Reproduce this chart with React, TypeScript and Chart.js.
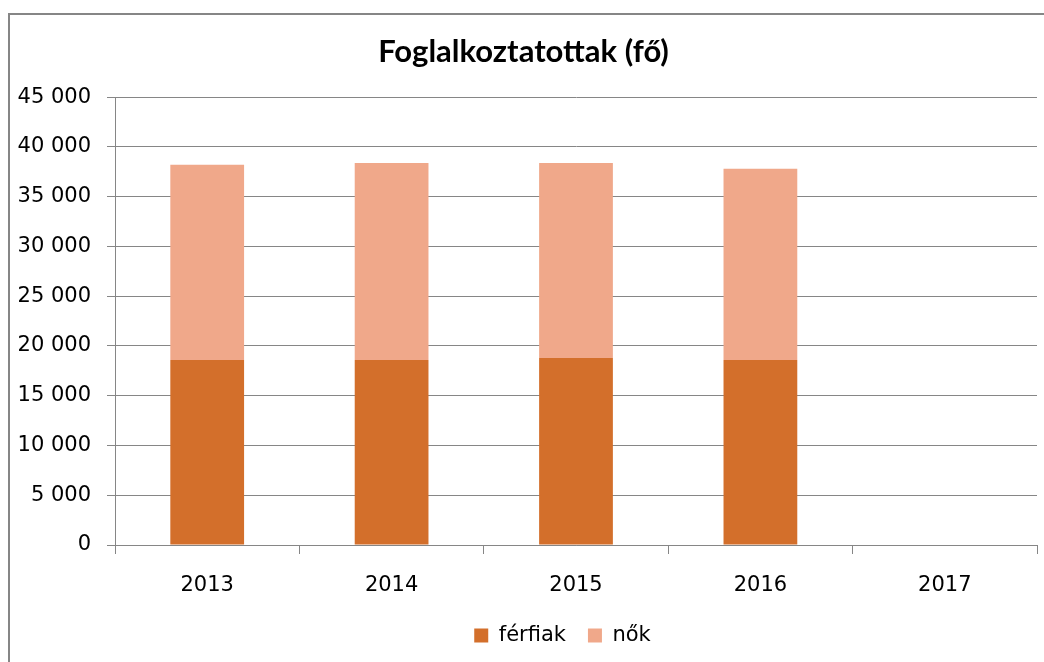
import React, { useEffect, useRef } from "react";
import { Chart, registerables } from "chart.js";

Chart.register(...registerables);

const categories = ["2013", "2014", "2015", "2016", "2017"];
const ferfiak = [18600, 18600, 18800, 18600, null];
const nok = [19600, 19800, 19600, 19200, null];
const seriesNames = ["férfiak", "nők"];
const titleText = "Foglalkoztatottak (fő)";
const yMin = 0;
const yMax = 45000;
const yStep = 5000;

const fmt = (v: number) =>
  String(Math.round(v)).replace(/\B(?=(\d{3})+(?!\d))/g, " ");

const legendShift = {
  id: "legendShift",
  afterLayout(chart: any) {
    const lg = chart.legend;
    if (lg) {
      lg.left += 39;
      lg.right += 39;
    }
  },
};

export default function App() {
  const ref = useRef<HTMLCanvasElement | null>(null);

  useEffect(() => {
    if (!ref.current) return;
    const chart = new Chart(ref.current, {
      type: "bar",
      data: {
        labels: categories,
        datasets: [
          {
            label: seriesNames[0],
            data: ferfiak,
            backgroundColor: "#D36F2B",
            categoryPercentage: 1,
            barPercentage: 0.4,
          },
          {
            label: seriesNames[1],
            data: nok,
            backgroundColor: "#F0A88A",
            categoryPercentage: 1,
            barPercentage: 0.4,
          },
        ],
      },
      plugins: [legendShift],
      options: {
        animation: false,
        responsive: false,
        maintainAspectRatio: false,
        layout: { padding: { left: 0, right: 7, top: 0, bottom: 6 } },
        plugins: {
          tooltip: { enabled: false },
          title: {
            display: true,
            text: titleText,
            color: "#000",
            font: { family: "Lato", size: 31, weight: "bold", lineHeight: 1.2 },
            padding: { top: 18, bottom: 27 },
          },
          legend: {
            position: "bottom",
            labels: {
              color: "#000",
              font: { family: "DejaVu Sans", size: 21 },
              boxWidth: 14,
              boxHeight: 14,
              padding: 22,
            },
          },
        },
        scales: {
          x: {
            stacked: true,
            afterFit: (s: any) => {
              s.height = 58;
            },
            grid: {
              display: true,
              drawOnChartArea: false,
              drawTicks: true,
              tickLength: 9,
              color: "#868686",
              offset: true,
            },
            border: { display: true, color: "#868686", width: 1 },
            ticks: {
              color: "#000",
              font: { family: "DejaVu Sans", size: 21 },
              padding: 19,
            },
          },
          y: {
            stacked: true,
            min: yMin,
            max: yMax,
            afterFit: (s: any) => {
              s.width = 105;
            },
            grid: {
              color: "#868686",
              lineWidth: 1,
              drawTicks: true,
              tickLength: 8,
            },
            border: { display: true, color: "#868686", width: 1 },
            ticks: {
              stepSize: yStep,
              color: "#000",
              font: { family: "DejaVu Sans", size: 21 },
              padding: 16,
              callback: (v: any) => fmt(Number(v)),
            },
          },
        },
      },
    });
    return () => chart.destroy();
  }, []);

  return (
    <div
      style={{
        position: "fixed",
        left: 8,
        top: 13,
        right: 0,
        bottom: 0,
        borderTop: "2px solid #868686",
        borderLeft: "2px solid #868686",
        background: "#fff",
        overflow: "hidden",
      }}
    >
      <canvas ref={ref} width={1034} height={647} style={{ display: "block" }} />
    </div>
  );
}
